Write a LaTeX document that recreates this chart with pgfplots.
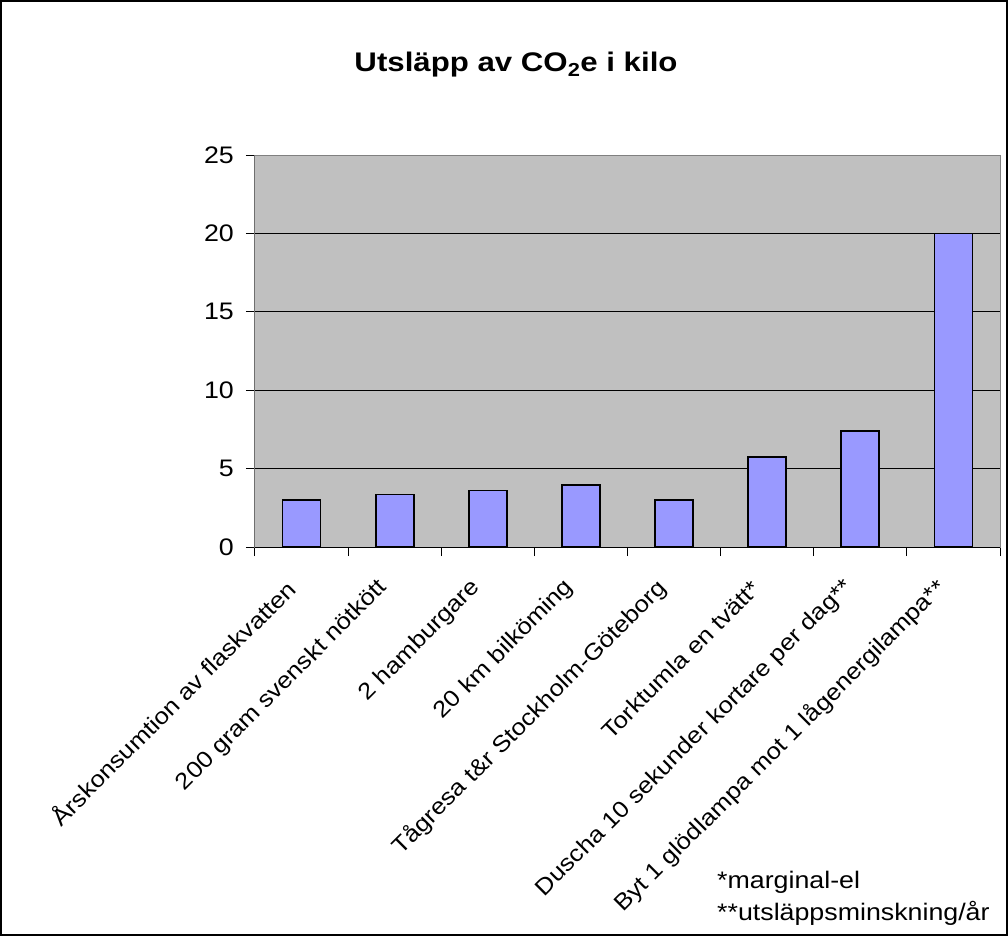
\documentclass[border=0pt]{standalone}
\usepackage{fontspec}
\setmainfont[FakeStretch=1.12]{Liberation Sans}
\newfontfamily\titlefont[FakeStretch=1.16]{Liberation Sans}
\usepackage{pgfplots}
\pgfplotsset{compat=1.18}
\definecolor{plotgray}{HTML}{C0C0C0}
\definecolor{barblue}{HTML}{9999FF}
\definecolor{bordergray}{HTML}{808080}
\begin{document}
\begin{tikzpicture}
\useasboundingbox (-255bp,547bp) rectangle (753bp,-389bp);
\draw[line width=2bp] (-254bp,546bp) rectangle (752bp,-388bp);
\begin{axis}[
  at={(0,0)}, anchor=south west,
  scale only axis,
  width=745bp, height=392bp,
  xmin=0.5, xmax=8.5,
  ymin=0, ymax=25,
  ytick={0,5,10,15,20,25},
  xtick={1,...,8},
  xticklabels={Årskonsumtion av flaskvatten,200 gram svenskt nötkött,2 hamburgare,20 km bilköming,Tågresa t\&r Stockholm-Göteborg,Torktumla en tvätt*,Duscha 10 sekunder kortare per dag**,Byt 1 glödlampa mot 1 lågenergilampa**},
  minor xtick={0.5,1.5,...,8.5},
  major x tick style={draw=none},
  xtick pos=bottom, ytick pos=left,
  tick align=outside,
  major tick length=9bp,
  minor tick length=9bp,
  tick style={black, line width=1bp},
  ymajorgrids,
  grid style={black, line width=1bp},
  axis background/.style={fill=plotgray},
  axis line style={bordergray, line width=1bp},
  /pgf/number format/assume math mode=true,
  yticklabel style={font=\fontsize{24}{28}\selectfont, inner sep=0pt, xshift=-12bp},
  xticklabel style={font=\fontsize{23}{27}\selectfont, inner sep=0pt, yshift=-28bp, xshift=-11bp, rotate=45, anchor=east},
  ybar, bar width=38bp,
  bar shift=0pt,
]
\addplot[fill=barblue, draw=black, line width=1.8bp] coordinates {
 (1,3.0) (2,3.35) (3,3.6) (4,3.95) (5,3.0) (6,5.75) (7,7.4) (8,20.0)
};
\draw[black, line width=1bp] (rel axis cs:0,1) -- (rel axis cs:0,0) -- (rel axis cs:1,0);
\end{axis}
\node[anchor=base, inner sep=0pt, font=\fontsize{27}{30}\selectfont\titlefont\bfseries] at (261bp,475bp) {Utsläpp av CO\textsubscript{2}e i kilo};
\node[anchor=base west, inner sep=0pt, font=\fontsize{24}{28}\selectfont] at (462bp,-341bp) {*marginal-el};
\node[anchor=base west, inner sep=0pt, font=\fontsize{24}{28}\selectfont] at (462bp,-373bp) {**utsläppsminskning/år};
\end{tikzpicture}
\end{document}
